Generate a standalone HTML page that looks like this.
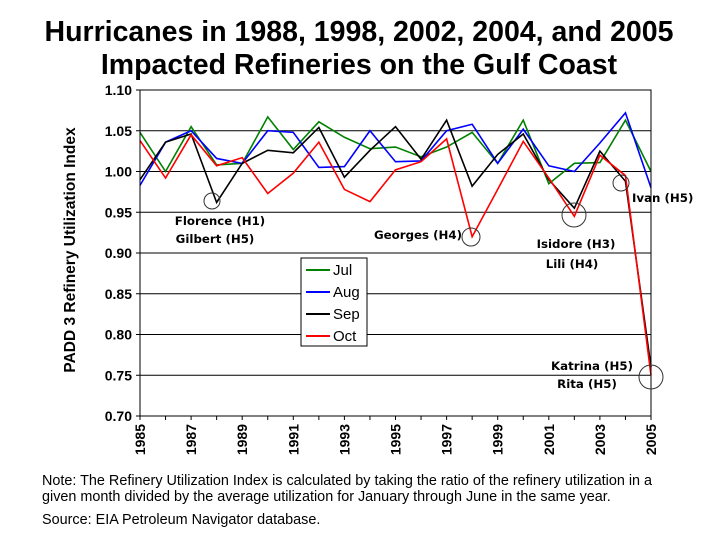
<!DOCTYPE html>
<html><head><meta charset="utf-8"><style>
body{margin:0;background:#fff;width:720px;height:540px;overflow:hidden;font-family:"Liberation Sans",sans-serif}
</style></head><body>
<svg width="720" height="540" font-family="Liberation Sans, sans-serif">
<text x="359" y="41" text-anchor="middle" font-size="28.5" font-weight="bold">Hurricanes in 1988, 1998, 2002, 2004, and 2005</text>
<text x="359" y="74" text-anchor="middle" font-size="28.5" font-weight="bold">Impacted Refineries on the Gulf Coast</text>
<g id="grid"></g><g id="series"></g><g id="axes"></g>
<text transform="translate(75,250) rotate(-90)" text-anchor="middle" font-size="15.5" font-weight="bold">PADD 3 Refinery Utilization Index</text>
<g font-size="11.8" font-weight="bold" font-family="DejaVu Sans, sans-serif">
<text x="220" y="225" text-anchor="middle">Florence (H1)</text>
<text x="215" y="243" text-anchor="middle">Gilbert (H5)</text>
<text x="418" y="239" text-anchor="middle">Georges (H4)</text>
<text x="576" y="248" text-anchor="middle">Isidore (H3)</text>
<text x="572" y="268" text-anchor="middle">Lili (H4)</text>
<text x="632" y="202">Ivan (H5)</text>
<text x="592" y="370" text-anchor="middle">Katrina (H5)</text>
<text x="587" y="388" text-anchor="middle">Rita (H5)</text>
</g>
<g fill="none" stroke="#333" stroke-width="1">
<circle cx="212" cy="201" r="8"/>
<circle cx="471" cy="237" r="9"/>
<circle cx="574" cy="215" r="12"/>
<circle cx="621" cy="183" r="8"/>
<circle cx="651" cy="377" r="12"/>
</g>
<g>
<rect x="301" y="258" width="66" height="88" fill="#fff" stroke="#000"/>
<line x1="306" y1="270" x2="330" y2="270" stroke="#008000" stroke-width="2"/><text x="333" y="275" font-size="15">Jul</text>
<line x1="306" y1="292" x2="330" y2="292" stroke="#0000ff" stroke-width="2"/><text x="333" y="297" font-size="15">Aug</text>
<line x1="306" y1="314" x2="330" y2="314" stroke="#000" stroke-width="2"/><text x="333" y="319" font-size="15">Sep</text>
<line x1="306" y1="336" x2="330" y2="336" stroke="#ff0000" stroke-width="2"/><text x="333" y="341" font-size="15">Oct</text>
</g>
<text x="42" y="485" font-size="14.4">Note:  The Refinery Utilization Index is calculated by taking the ratio of the refinery utilization in a</text>
<text x="42" y="501" font-size="14.4">given month divided by the average utilization for January through June in the same year.</text>
<text x="42" y="524" font-size="14.4">Source: EIA Petroleum Navigator database.</text>
</svg>
<script>
const years=[1985,1986,1987,1988,1989,1990,1991,1992,1993,1994,1995,1996,1997,1998,1999,2000,2001,2002,2003,2004,2005];
const jul=[1.048,1.000,1.055,1.008,1.010,1.067,1.027,1.061,1.042,1.028,1.030,1.018,1.030,1.048,1.010,1.063,0.985,1.010,1.011,1.063,1.000];
const aug=[0.983,1.036,1.050,1.016,1.010,1.050,1.048,1.005,1.006,1.050,1.012,1.013,1.050,1.058,1.010,1.052,1.007,1.000,1.035,1.072,0.980];
const sep=[0.990,1.036,1.046,0.962,1.010,1.026,1.023,1.054,0.993,1.026,1.055,1.015,1.063,0.982,1.021,1.046,0.990,0.955,1.025,0.988,0.760];
const oct=[1.038,0.992,1.045,1.007,1.017,0.973,0.998,1.036,0.978,0.963,1.002,1.012,1.040,0.920,0.978,1.037,0.992,0.945,1.020,0.995,0.750];
const yTicks=[0.70,0.75,0.80,0.85,0.90,0.95,1.00,1.05,1.10];
const xTickYears=[1985,1987,1989,1991,1993,1995,1997,1999,2001,2003,2005];
const NS="http://www.w3.org/2000/svg";
const X0=140,X1=651,Y0=416,Y1=90;
const xs=y=>X0+(y-1985)/20*(X1-X0);
const ys=v=>Y0-(v-0.70)/0.40*(Y0-Y1);
function mk(t,a,p){const e=document.createElementNS(NS,t);for(const k in a)e.setAttribute(k,a[k]);p.appendChild(e);return e;}
const grid=document.getElementById('grid'),axes=document.getElementById('axes'),ser=document.getElementById('series');
yTicks.forEach(v=>{
  const l=mk('line',{x1:X0,x2:X1,y1:ys(v),y2:ys(v),stroke:'#000','stroke-width':1},grid);
  
  
  const t=mk('text',{x:X0-8,y:ys(v)+5,'text-anchor':'end','font-size':14,'font-weight':'bold'},axes);
  t.textContent=v.toFixed(2);
  
  
  mk('line',{x1:X0-4,x2:X0,y1:ys(v),y2:ys(v),stroke:'#000'},axes);
});
const ax=mk('rect',{x:X0,y:Y1,width:X1-X0,height:Y0-Y1,fill:'none',stroke:'#000'},axes);


years.forEach(y=>mk('line',{x1:xs(y),x2:xs(y),y1:Y0,y2:Y0+4,stroke:'#000'},axes));
xTickYears.forEach(y=>{
  const t=mk('text',{transform:`translate(${xs(y)+5},${Y0+8}) rotate(-90)`,'text-anchor':'end','font-size':14,'font-weight':'bold'},axes);
  t.textContent=y;
  
  
});
[[jul,'#008000','line-jul'],[aug,'#0000ff','line-aug'],[sep,'#000000','line-sep'],[oct,'#ff0000','line-oct']].forEach(([d,c,n])=>{
  const p=mk('polyline',{points:d.map((v,i)=>xs(years[i])+','+ys(v)).join(' '),fill:'none',stroke:c,'stroke-width':1.6},ser);
  
  
});
</script>
</body></html>
